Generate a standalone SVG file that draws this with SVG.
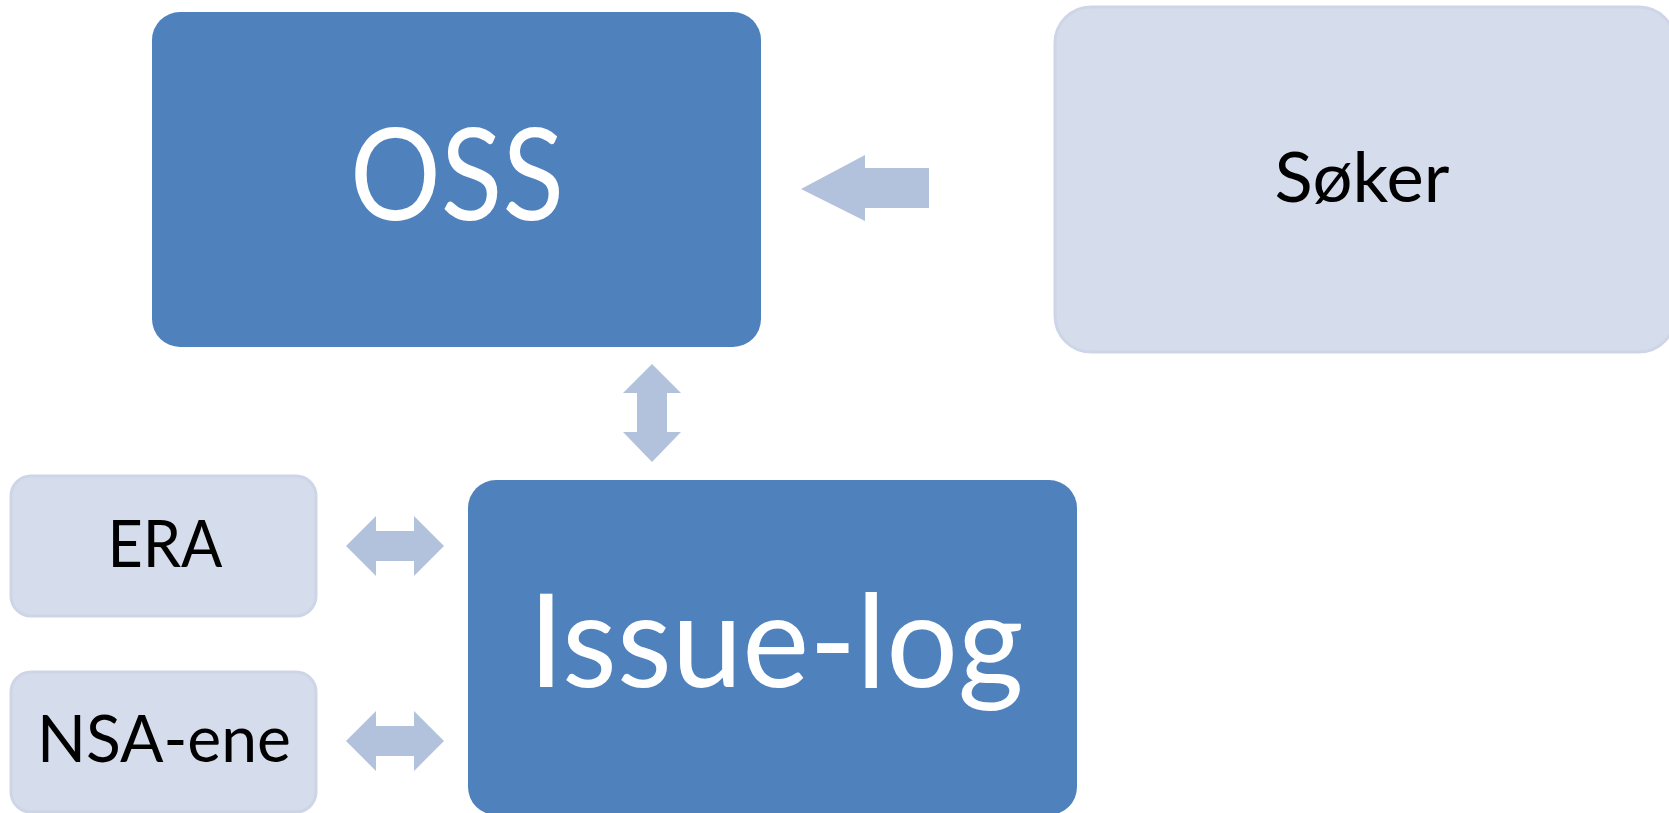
<svg xmlns="http://www.w3.org/2000/svg" width="1669" height="813" viewBox="0 0 1669 813">
  <style>
    .dark { fill: #4F81BD; }
    .light { fill: #D5DCEB; stroke: #CDD5E7; stroke-width: 3; }
    .arrow { fill: #B2C1DC; }
    .tw { font-family: Lato, "Open Sans", sans-serif; fill: #FFFFFF; text-anchor: middle; }
    .tb { font-family: Lato, "Open Sans", sans-serif; fill: #000000; text-anchor: middle; }
  </style>
  <rect width="1669" height="813" fill="#FFFFFF"/>
  <g id="connectors">
    <path class="arrow" d="M801,189 L865,155 L865,168 L929,168 L929,208 L865,208 L865,221 Z"/>
    <path class="arrow" d="M652,364 L681,393 L667,393 L667,432 L681,432 L652,462 L623,432 L637,432 L637,393 L623,393 Z"/>
    <path class="arrow" d="M346,546 L376,516 L376,531 L414,531 L414,516 L444,546 L414,576 L414,561 L376,561 L376,576 Z"/>
    <path class="arrow" d="M346,741 L376,711 L376,726 L414,726 L414,711 L444,741 L414,771 L414,756 L376,756 L376,771 Z"/>
  </g>
  <g id="oss">
    <rect class="dark" x="152" y="12" width="609" height="335" rx="28" ry="28"/>
    <text class="tw" x="457" y="220" font-size="128" textLength="214" lengthAdjust="spacingAndGlyphs">OSS</text>
  </g>
  <g id="soker">
    <rect class="light" x="1055" y="7" width="620" height="345" rx="36" ry="36"/>
    <text class="tb" x="1362" y="202" font-size="70" textLength="175" lengthAdjust="spacingAndGlyphs">Søker</text>
  </g>
  <g id="era">
    <rect class="light" x="11" y="476" width="305" height="140" rx="20" ry="20"/>
    <text class="tb" x="165" y="567" font-size="65" textLength="115" lengthAdjust="spacingAndGlyphs">ERA</text>
  </g>
  <g id="nsa-ene">
    <rect class="light" x="11" y="672" width="305" height="140" rx="20" ry="20"/>
    <text class="tb" x="164" y="762" font-size="65" textLength="254" lengthAdjust="spacingAndGlyphs">NSA-ene</text>
  </g>
  <g id="issue-log">
    <rect class="dark" x="468" y="480" width="609" height="335" rx="28" ry="28"/>
    <text class="tw" x="776" y="687" font-size="130" textLength="495" lengthAdjust="spacingAndGlyphs">Issue-log</text>
  </g>
</svg>
